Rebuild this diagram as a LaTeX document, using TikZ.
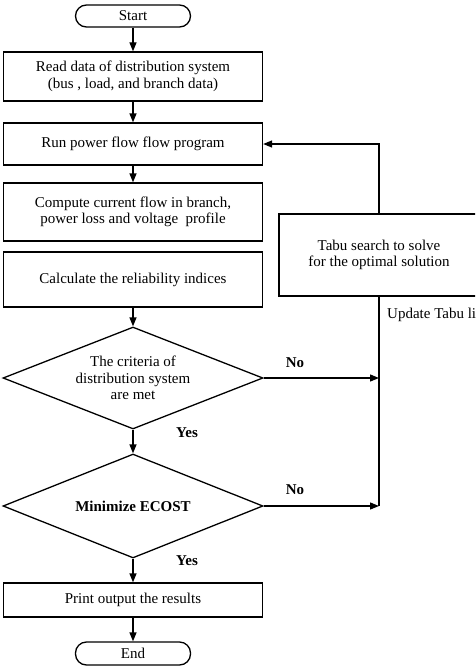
\documentclass[tikz,border=0pt]{standalone}
\usepackage{fontspec}
\setmainfont{Liberation Serif}
\usetikzlibrary{shapes.geometric,arrows.meta}
\begin{document}
\begin{tikzpicture}[x=1pt,y=-1pt,
  every node/.style={font=\fontsize{15}{16.5}\selectfont, align=center, inner sep=0pt},
  procbox/.style={draw, line width=1.3pt, minimum width=259pt},
  termbox/.style={draw, line width=1.3pt, rounded corners=11pt, minimum width=115pt},
  decbox/.style={draw, line width=1.3pt, diamond, minimum width=260pt, aspect=2.5},
  flow/.style={line width=1.3pt, -{Triangle[length=9pt,width=7pt]}},
  plain/.style={line width=1.3pt},
  lbl/.style={font=\fontsize{15}{16.5}\selectfont\bfseries}
]
\useasboundingbox (0,0) rectangle (475,669);
\clip (0,0) rectangle (475,669);

\node[termbox, minimum height=22pt] (start) at (133,16) {Start};
\node[procbox, minimum height=49pt] (read) at (133,76.5) {Read data of distribution system\\ (bus , load, and branch data)};
\node[procbox, minimum height=42pt] (run) at (133,144) {Run power flow flow program};
\node[procbox, minimum height=58pt] (comp) at (133,212) {Compute current flow in branch,\\power loss and voltage\ \ profile};
\node[procbox, minimum height=55pt] (calc) at (133,279.5) {Calculate the reliability indices};
\node[decbox, minimum height=102pt] (crit) at (133,378) {The criteria of\\distribution system\\are met};
\node[decbox, minimum height=104pt] (ecost) at (133,506) {\textbf{Minimize ECOST}};
\node[procbox, minimum height=34pt] (print) at (133,600) {Print output the results};
\node[termbox, minimum height=23pt] (end) at (133,653.5) {End};
\node[draw, line width=1.3pt, minimum width=200pt, minimum height=82pt] (tabu) at (379,255) {Tabu search to solve\\for the optimal solution};

\draw[flow] (start) -- (read);
\draw[flow] (read) -- (run);
\draw[flow] (run) -- (comp);
\draw[flow] (calc) -- (crit);
\draw[flow] (crit) -- (ecost);
\draw[flow] (ecost) -- (print);
\draw[flow] (print) -- (end);

\draw[flow] (tabu.north) |- (run.east);
\draw[plain] (tabu.south) -- (tabu.south |- ecost.east);
\draw[flow] (crit.east) -- (crit.east -| tabu.south);
\draw[flow] (ecost.east) -- (ecost.east -| tabu.south);

\node[lbl] (no1) at (295,363) {No};
\node[lbl] (no2) at (295,490) {No};
\node[lbl] (yes1) at (187,433) {Yes};
\node[lbl] (yes2) at (187,561) {Yes};
\node[anchor=west] (upd) at (387,315) {Update Tabu list};
\end{tikzpicture}
\end{document}
